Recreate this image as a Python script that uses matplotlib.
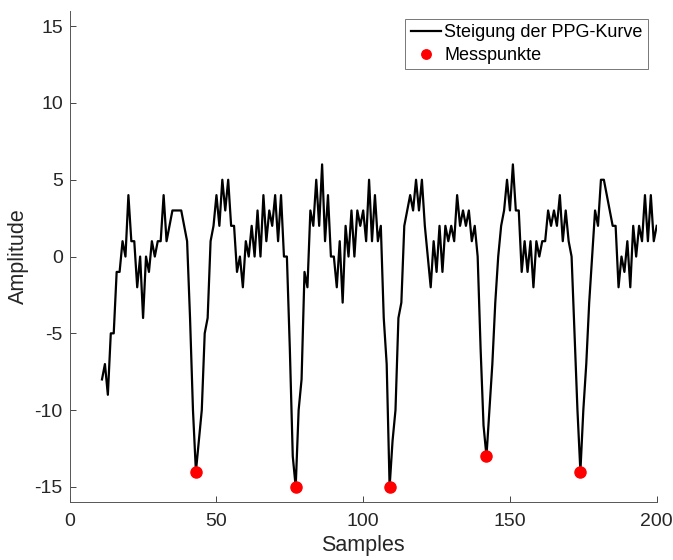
import matplotlib
matplotlib.use("Agg")
import matplotlib.pyplot as plt
import numpy as np

plt.rcParams['font.family'] = ['Liberation Sans', 'DejaVu Sans']
plt.rcParams['axes.unicode_minus'] = False

samples = list(range(11, 201))
slope = [-8, -7, -9, -5, -5, -1, -1, 1, 0, 4,
         1, 1, -2, 0, -4, 0, -1, 1, 0, 1,
         1, 4, 1, 2, 3, 3, 3, 3, 2, 1,
         -4, -10, -14, -12, -10, -5, -4, 1, 2, 4,
         2, 5, 3, 5, 2, 2, -1, 0, -2, 1,
         0, 2, 0, 3, 0, 4, 1, 3, 2, 4,
         1, 4, 0, 0, -6, -13, -15, -10, -8, -1,
         -2, 3, 2, 5, 2, 6, 1, 4, 0, 0,
         -2, 1, -3, 2, 0, 3, 0, 3, 2, 3,
         1, 5, 1, 4, 1, 2, -4, -7, -15, -12,
         -10, -4, -3, 2, 3, 4, 3, 5, 3, 5,
         2, 0, -2, 1, -1, 2, -1, 2, 1, 2,
         1, 4, 2, 3, 2, 3, 1, 2, 0, -6,
         -11, -13, -10, -7, -3, 0, 2, 3, 5, 3,
         6, 3, 3, -1, 1, -1, 1, -2, 1, 0,
         1, 1, 3, 2, 3, 2, 4, 1, 3, 1,
         0, -5, -10, -14, -10, -7, -3, 0, 3, 2,
         5, 5, 4, 3, 2, 2, -2, 0, -1, 1,
         -2, 2, 0, 2, 1, 4, 1, 4, 1, 2]

peak_x = [43, 77, 109, 142, 174]
peak_y = [-14, -15, -15, -13, -14]

xticks = [0, 50, 100, 150, 200]
yticks = [-15, -10, -5, 0, 5, 10, 15]

W, H = 673, 560
left, right, top, bottom = 69.7, 656.7, 10.8, 502.3
fig = plt.figure(figsize=(W / 100, H / 100), dpi=100)
ax = fig.add_axes([left / W, 1 - bottom / H, (right - left) / W, (bottom - top) / H])

ax.plot(samples, slope, color='black', linewidth=1.6, label='Steigung der PPG-Kurve')
ax.plot(peak_x, peak_y, 'o', color='red', markersize=8, linestyle='none', label='Messpunkte')

ax.set_xlim(0, 200)
ax.set_ylim(-16, 16)
ax.set_xticks(xticks)
ax.set_yticks(yticks)
tc = '#262626'
ax.tick_params(direction='in', length=4, width=0.6, colors=tc, labelsize=14)
ax.tick_params(axis='x', pad=8)
ax.tick_params(axis='y', pad=5)
for sp in ['top', 'right']:
    ax.spines[sp].set_visible(False)
for sp in ['left', 'bottom']:
    ax.spines[sp].set_color('#555555')
    ax.spines[sp].set_linewidth(0.7)

ax.set_xlabel('Samples', fontsize=15.5, color=tc)
ax.set_ylabel('Amplitude', fontsize=15.5, color=tc)
ax.xaxis.set_label_coords(0.5, -0.066)
ax.yaxis.set_label_coords(-0.07, 0.5)

ax_w = right - left
ax_h = bottom - top
leg = ax.legend(loc='upper right',
                bbox_to_anchor=((648 - left) / ax_w, (bottom - 19) / ax_h),
                fontsize=13, frameon=True, fancybox=False,
                edgecolor='#555555', handlelength=1.7, handletextpad=0.15,
                borderpad=0.3, labelspacing=0.3, borderaxespad=0.0,
                markerscale=0.85)
leg.get_frame().set_linewidth(0.7)

fig.savefig('out.png', dpi=100)
